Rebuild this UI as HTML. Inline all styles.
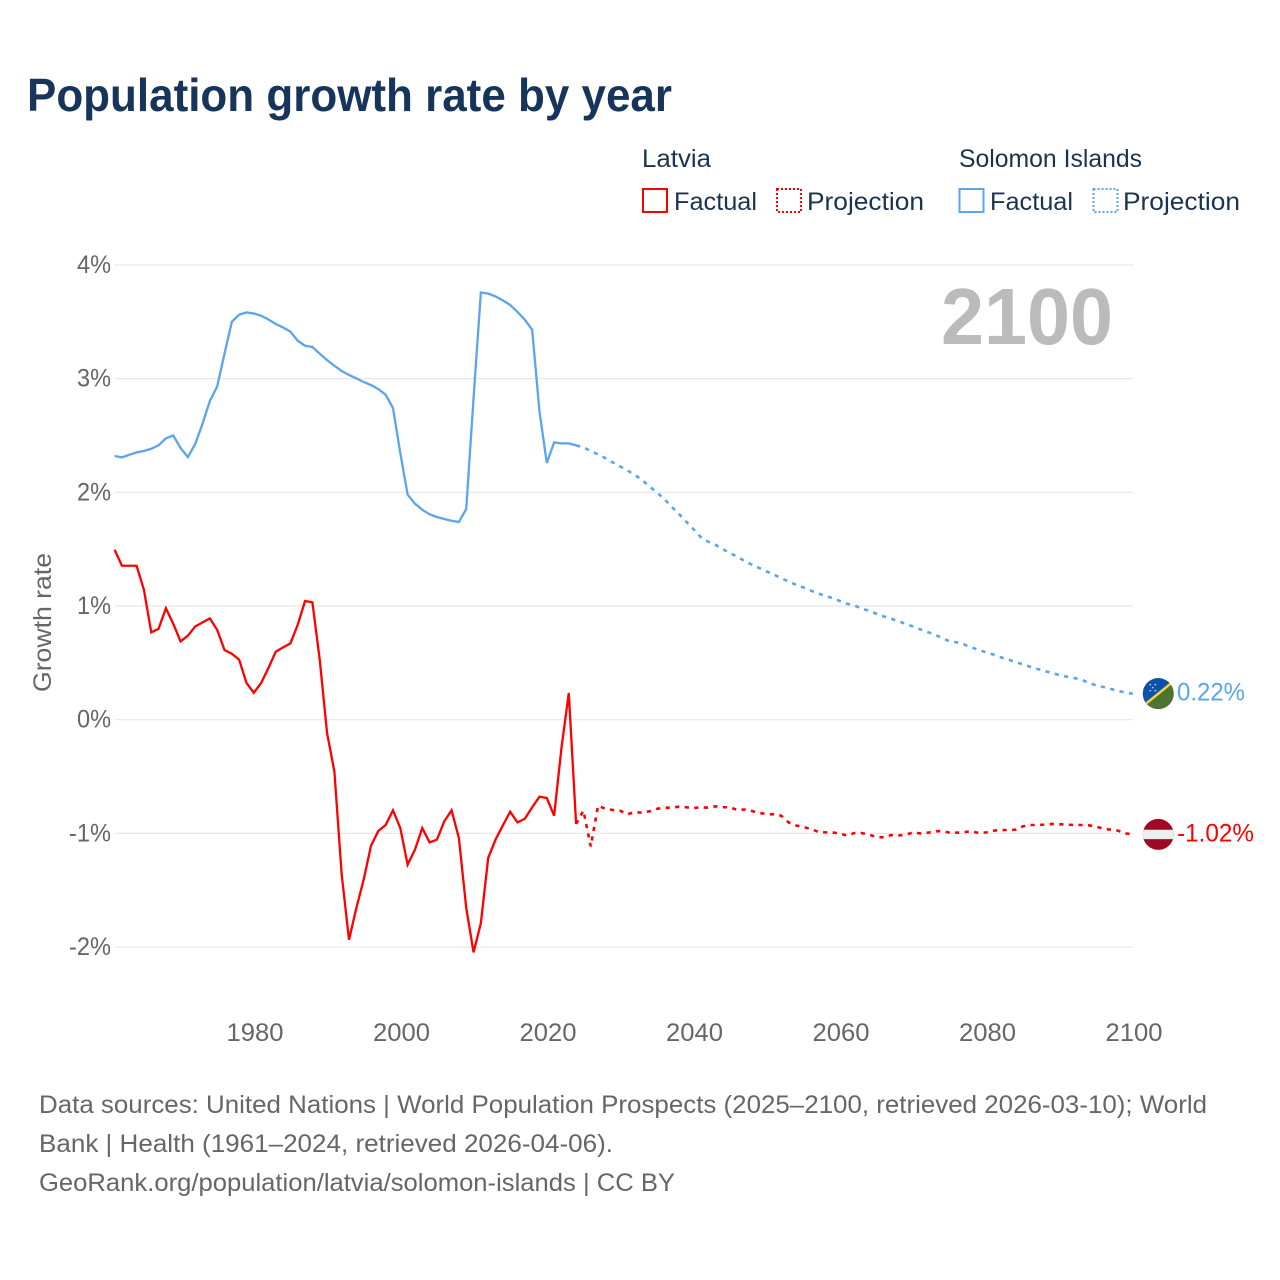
<!DOCTYPE html>
<html lang="en">
<head>
<meta charset="utf-8">
<title>Population growth rate by year</title>
<style>
html,body{margin:0;padding:0;background:#fff;}
svg{display:block;font-family:"Liberation Sans",sans-serif;}
</style>
</head>
<body>
<svg id="chart" width="1280" height="1280" viewBox="0 0 1280 1280">
  <defs>
    <clipPath id="flag-clip-sb"><circle cx="0" cy="0" r="15.5"></circle></clipPath>
    <clipPath id="flag-clip-lv"><circle cx="0" cy="0" r="15.5"></circle></clipPath>
  </defs>
  <rect width="1280" height="1280" fill="#ffffff"></rect>
  <text x="27" y="111" font-size="46" font-weight="700" fill="#17345a" textLength="645" lengthAdjust="spacingAndGlyphs">Population growth rate by year</text>

  <g font-size="25" fill="#1a3350">
    <text x="642" y="167" textLength="69" lengthAdjust="spacingAndGlyphs">Latvia</text>
    <text x="959" y="167" textLength="183" lengthAdjust="spacingAndGlyphs">Solomon Islands</text>
    <g>
      <rect x="643" y="189" width="24" height="23" fill="none" stroke="#ff0000" stroke-width="2"></rect>
      <text x="674" y="210" textLength="83" lengthAdjust="spacingAndGlyphs">Factual</text>
    </g>
    <g>
      <rect x="777" y="189" width="24" height="23" fill="none" stroke="#ff0000" stroke-width="2" stroke-dasharray="2 2"></rect>
      <text x="807" y="210" textLength="117" lengthAdjust="spacingAndGlyphs">Projection</text>
    </g>
    <g>
      <rect x="959.5" y="189" width="24" height="23" fill="none" stroke="#5ba4ee" stroke-width="2"></rect>
      <text x="990" y="210" textLength="83" lengthAdjust="spacingAndGlyphs">Factual</text>
    </g>
    <g>
      <rect x="1093.5" y="189" width="24" height="23" fill="none" stroke="#5ba4ee" stroke-width="2" stroke-dasharray="2 2"></rect>
      <text x="1123" y="210" textLength="117" lengthAdjust="spacingAndGlyphs">Projection</text>
    </g>
  </g>

  <g id="grid"></g>
  <g id="y-ticks"></g>
  <g id="x-ticks"></g>
  <text transform="translate(51 692) rotate(-90)" font-size="25" fill="#666666" textLength="139" lengthAdjust="spacingAndGlyphs">Growth rate</text>
  <text x="941" y="344" font-size="80" font-weight="700" fill="#bbbbbb" textLength="172" lengthAdjust="spacingAndGlyphs">2100</text>

  <g id="series"></g>

  <g id="flag-sb">
    <g clip-path="url(#flag-clip-sb)">
      <rect x="-16" y="-16" width="32" height="32" fill="#4f7330"></rect>
      <polygon points="-16,-16 16,-16 -16,16" fill="#0a52ab"></polygon>
      <line x1="-16" y1="13" x2="16" y2="-13" stroke="#f5d63d" stroke-width="2.4"></line>
      <g fill="#d8e4f4">
        <circle cx="-8" cy="-9" r="0.8"></circle><circle cx="-3" cy="-9" r="0.8"></circle>
        <circle cx="-5.5" cy="-6" r="0.8"></circle>
        <circle cx="-8" cy="-3" r="0.8"></circle><circle cx="-3" cy="-3" r="0.8"></circle>
      </g>
    </g>
  </g>
  <g id="flag-lv">
    <g clip-path="url(#flag-clip-lv)">
      <rect x="-16" y="-16" width="32" height="32" fill="#9e0a26"></rect>
      <rect x="-16" y="-4.7" width="32" height="9.4" fill="#eeeeee"></rect>
    </g>
  </g>
  <text id="label-sb" x="1177" font-size="25" fill="#5ba4ee" textLength="68" lengthAdjust="spacingAndGlyphs"></text>
  <text id="label-lv" x="1177" font-size="25" fill="#ff0000" textLength="77" lengthAdjust="spacingAndGlyphs"></text>

  <g font-size="25" fill="#666666">
    <text x="39" y="1113" textLength="1168" lengthAdjust="spacingAndGlyphs">Data sources: United Nations | World Population Prospects (2025–2100, retrieved 2026-03-10); World</text>
    <text x="39" y="1152" textLength="574" lengthAdjust="spacingAndGlyphs">Bank | Health (1961–2024, retrieved 2026-04-06).</text>
    <a><text x="39" y="1191" textLength="636" lengthAdjust="spacingAndGlyphs">GeoRank.org/population/latvia/solomon-islands | CC BY</text></a>
  </g>
</svg>
<script>
const yTickValues = [4, 3, 2, 1, 0, -1, -2];
const yTickLabels = ["4%", "3%", "2%", "1%", "0%", "-1%", "-2%"];
const xTickYears = [1980, 2000, 2020, 2040, 2060, 2080, 2100];
const factualStartYear = 1961;
const projectionStartYear = 2024;
const latviaFactual = [1.495,1.354,1.354,1.354,1.143,0.768,0.80,0.98,0.844,0.689,0.739,0.82,0.856,0.891,0.79,0.613,0.58,0.528,0.323,0.237,0.323,0.455,0.598,0.636,0.671,0.836,1.044,1.032,0.528,-0.117,-0.455,-1.363,-1.935,-1.656,-1.407,-1.108,-0.979,-0.926,-0.797,-0.953,-1.275,-1.143,-0.953,-1.079,-1.055,-0.894,-0.797,-1.04,-1.656,-2.046,-1.788,-1.216,-1.055,-0.93,-0.809,-0.903,-0.871,-0.771,-0.677,-0.689,-0.844,-0.249,0.235,-0.917];
const latviaProjection = [-0.917,-0.80,-1.114,-0.756,-0.784,-0.794,-0.80,-0.833,-0.812,-0.818,-0.806,-0.785,-0.774,-0.774,-0.765,-0.77,-0.777,-0.77,-0.774,-0.762,-0.77,-0.77,-0.794,-0.79,-0.803,-0.82,-0.83,-0.833,-0.844,-0.903,-0.93,-0.944,-0.959,-0.985,-0.991,-0.991,-1.003,-1.018,-0.997,-0.997,-1.011,-1.032,-1.035,-1.015,-1.018,-1.012,-0.991,-1.0,-0.994,-0.982,-0.979,-0.994,-0.994,-0.988,-0.982,-0.997,-0.991,-0.976,-0.97,-0.97,-0.967,-0.938,-0.926,-0.926,-0.923,-0.917,-0.92,-0.923,-0.926,-0.926,-0.929,-0.941,-0.959,-0.967,-0.976,-1.0,-1.009];
const solomonFactual = [2.319,2.307,2.33,2.351,2.363,2.383,2.413,2.474,2.5,2.39,2.31,2.425,2.603,2.803,2.931,3.219,3.5,3.562,3.582,3.573,3.553,3.52,3.48,3.45,3.413,3.333,3.289,3.278,3.219,3.163,3.113,3.067,3.032,3.002,2.97,2.943,2.908,2.858,2.741,2.345,1.979,1.9,1.847,1.806,1.783,1.765,1.75,1.739,1.853,2.829,3.758,3.747,3.723,3.688,3.647,3.586,3.518,3.43,2.712,2.258,2.439,2.43,2.43,2.413];
const solomonProjection = [2.413,2.395,2.363,2.333,2.30,2.263,2.228,2.193,2.152,2.11,2.052,2.0,1.944,1.876,1.812,1.744,1.677,1.607,1.566,1.539,1.501,1.466,1.434,1.396,1.363,1.334,1.304,1.278,1.243,1.217,1.187,1.164,1.137,1.111,1.088,1.07,1.044,1.02,1.005,0.976,0.959,0.932,0.909,0.888,0.868,0.841,0.82,0.794,0.771,0.748,0.718,0.689,0.68,0.66,0.636,0.613,0.592,0.572,0.548,0.528,0.507,0.486,0.466,0.446,0.428,0.41,0.393,0.378,0.367,0.352,0.323,0.302,0.288,0.27,0.255,0.237,0.229];
const endValueLabels = ["0.22%", "-1.02%"];

function xScale(year) { return 253.8 + (year - 1980) * 7.325; }
function yScale(value) { return 719.7 - value * 113.7; }
const svgNamespace = document.getElementById('chart').namespaceURI;
function svgEl(tag) { return document.createElementNS(svgNamespace, tag); }
function pathFrom(values, startYear) {
  return values.map(function (v, i) {
    return (i ? 'L' : 'M') + xScale(startYear + i).toFixed(2) + ' ' + yScale(v).toFixed(2);
  }).join(' ');
}

const gridGroup = document.getElementById('grid');
const yTickGroup = document.getElementById('y-ticks');
yTickValues.forEach(function (v, i) {
  const line = svgEl('line');
  
  
  line.setAttribute('x1', 115);
  line.setAttribute('x2', 1133);
  line.setAttribute('y1', yScale(v));
  line.setAttribute('y2', yScale(v));
  line.setAttribute('stroke', '#e8e8e8');
  line.setAttribute('stroke-width', '1.2');
  gridGroup.appendChild(line);
  const label = svgEl('text');
  
  
  label.setAttribute('x', 111);
  label.setAttribute('y', yScale(v) + 8);
  label.setAttribute('text-anchor', 'end');
  label.setAttribute('font-size', '25');
  label.setAttribute('fill', '#666666');
  label.setAttribute('textLength', v < 0 ? 42 : 34);
  label.setAttribute('lengthAdjust', 'spacingAndGlyphs');
  label.textContent = yTickLabels[i];
  yTickGroup.appendChild(label);
});

const xTickGroup = document.getElementById('x-ticks');
xTickYears.forEach(function (year) {
  const label = svgEl('text');
  
  
  label.setAttribute('x', xScale(year) + 1.2);
  label.setAttribute('y', 1041);
  label.setAttribute('text-anchor', 'middle');
  label.setAttribute('font-size', '25');
  label.setAttribute('fill', '#666666');
  label.setAttribute('textLength', 57);
  label.setAttribute('lengthAdjust', 'spacingAndGlyphs');
  label.textContent = String(year);
  xTickGroup.appendChild(label);
});

const seriesGroup = document.getElementById('series');
function addLine(name, values, startYear, color, dashed) {
  const path = svgEl('path');
  
  
  path.setAttribute('d', pathFrom(values, startYear));
  path.setAttribute('fill', 'none');
  path.setAttribute('stroke', color);
  path.setAttribute('stroke-width', dashed ? '2.6' : '2.3');
  if (dashed) path.setAttribute('stroke-dasharray', '4.2 5.4');
  seriesGroup.appendChild(path);
}
addLine('solomon-factual-line', solomonFactual, factualStartYear, '#5ba4ee', false);
addLine('solomon-projection-line', solomonProjection, projectionStartYear, '#5ba4ee', true);
addLine('latvia-factual-line', latviaFactual, factualStartYear, '#ff0000', false);
addLine('latvia-projection-line', latviaProjection, projectionStartYear, '#ff0000', true);

const lastSb = solomonProjection[solomonProjection.length - 1];
const lastLv = latviaProjection[latviaProjection.length - 1];
document.getElementById('flag-sb').setAttribute('transform', 'translate(1158.3 ' + yScale(lastSb) + ')');
document.getElementById('flag-lv').setAttribute('transform', 'translate(1158.3 ' + yScale(lastLv) + ')');
const labelSb = document.getElementById('label-sb');
labelSb.setAttribute('y', yScale(lastSb) + 7);
labelSb.textContent = endValueLabels[0];
const labelLv = document.getElementById('label-lv');
labelLv.setAttribute('y', yScale(lastLv) + 7);
labelLv.textContent = endValueLabels[1];
</script>
</body>
</html>
